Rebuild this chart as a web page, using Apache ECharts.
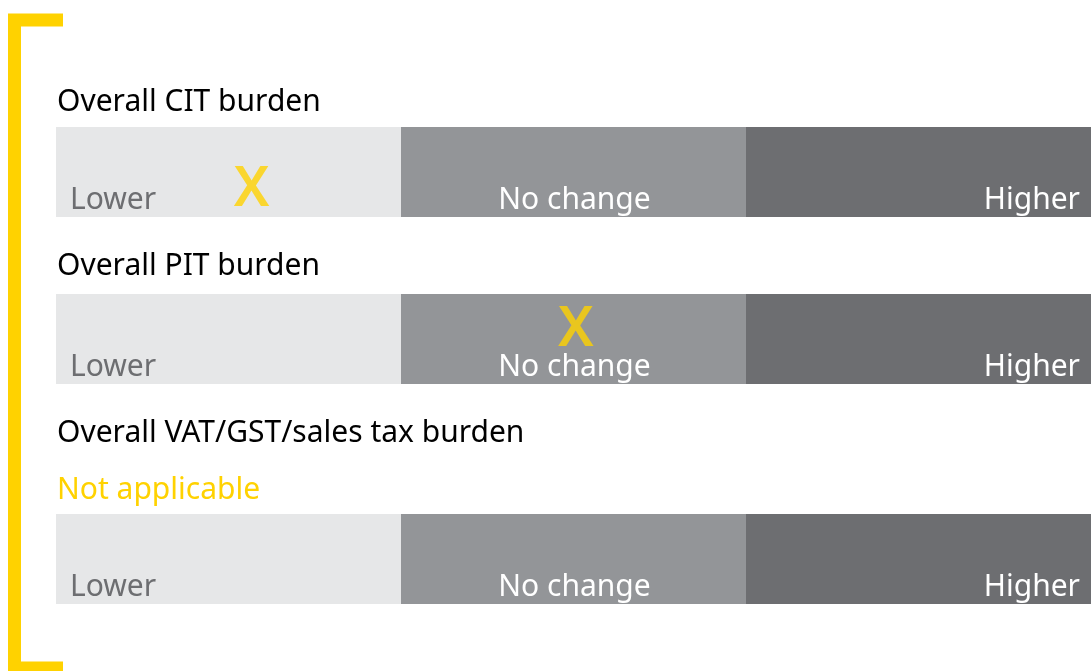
<!DOCTYPE html>
<html>
<head>
<meta charset="utf-8">
<script src="https://cdn.jsdelivr.net/npm/echarts@6/dist/echarts.min.js"></script>
<style>
  html, body { margin: 0; padding: 0; background: #fff; }
  #chart { width: 1091px; height: 671px; }
</style>
</head>
<body>
<div id="chart"></div>
<script>
// data
var rowTitles = ["Overall CIT burden", "Overall PIT burden", "Overall VAT/GST/sales tax burden"];
var rowNotes = ["", "", "Not applicable"];
var segmentNames = ["Lower", "No change", "Higher"];
var segmentSizes = [1, 1, 1];
// position of the X on the 0..3 scale, and its height inside the bar (0 = bottom, 1 = top)
var markerX = [0.567, 1.507, null];
var markerY = [0.356, 0.656, null];

var segColors = ["#e6e7e8", "#939598", "#6d6e71"];
var labelColors = ["#6d6e71", "#ffffff", "#ffffff"];
var labelX = [14, "50%", "100%"];
var labelAlign = ["left", "center", "right"];
var labelDx = [0, 1, -11];
var yellow = "#ffd200";
var font = "Noto Sans";

var gridTops = [127, 294, 514];
var titleTops = [87, 251, 418];

var grids = [], xAxes = [], yAxes = [], series = [], graphics = [];

rowTitles.forEach(function (t, r) {
  grids.push({ left: 56, right: 0, top: gridTops[r], height: 90 });
  xAxes.push({ gridIndex: r, type: "value", min: 0, max: 3, show: false });
  yAxes.push({ gridIndex: r, type: "category", data: [t], show: false });
  yAxes.push({ gridIndex: r, type: "value", min: 0, max: 1, show: false });

  segmentNames.forEach(function (name, s) {
    series.push({
      type: "bar",
      name: name,
      xAxisIndex: r,
      yAxisIndex: r * 2,
      stack: "row" + r,
      barWidth: "100%",
      silent: true,
      itemStyle: { color: segColors[s] },
      label: {
        show: true,
        position: [labelX[s], "100%"],
        align: labelAlign[s],
        verticalAlign: "bottom",
        offset: [labelDx[s], -2],
        formatter: name,
        color: labelColors[s],
        fontFamily: font,
        fontSize: 30
      },
      data: [segmentSizes[s]]
    });
  });

  if (markerX[r] !== null) {
    series.push({
      type: "scatter",
      xAxisIndex: r,
      yAxisIndex: r * 2 + 1,
      symbolSize: 0,
      silent: true,
      label: {
        show: true,
        position: "inside",
        offset: [0, 5],
        formatter: "X",
        color: yellow,
        fontFamily: font,
        fontWeight: 600,
        fontSize: 56
      },
      data: [[markerX[r], markerY[r]]]
    });
  }

  graphics.push({
    type: "text", left: 57, top: titleTops[r],
    style: { text: t, fill: "#000", font: "30px '" + font + "'" }
  });
  if (rowNotes[r]) {
    graphics.push({
      type: "text", left: 57, top: 475,
      style: { text: rowNotes[r], fill: yellow, font: "30px '" + font + "'" }
    });
  }
});

// yellow bracket on the left
graphics.push({
  type: "polyline",
  shape: { points: [[63, 20], [14.5, 20], [14.5, 668], [63, 668]] },
  style: { stroke: yellow, lineWidth: 13, fill: null }
});

var chart = echarts.init(document.getElementById("chart"));
chart.setOption({
  animation: false,
  grid: grids,
  xAxis: xAxes,
  yAxis: yAxes,
  series: series,
  graphic: graphics
});
</script>
</body>
</html>
